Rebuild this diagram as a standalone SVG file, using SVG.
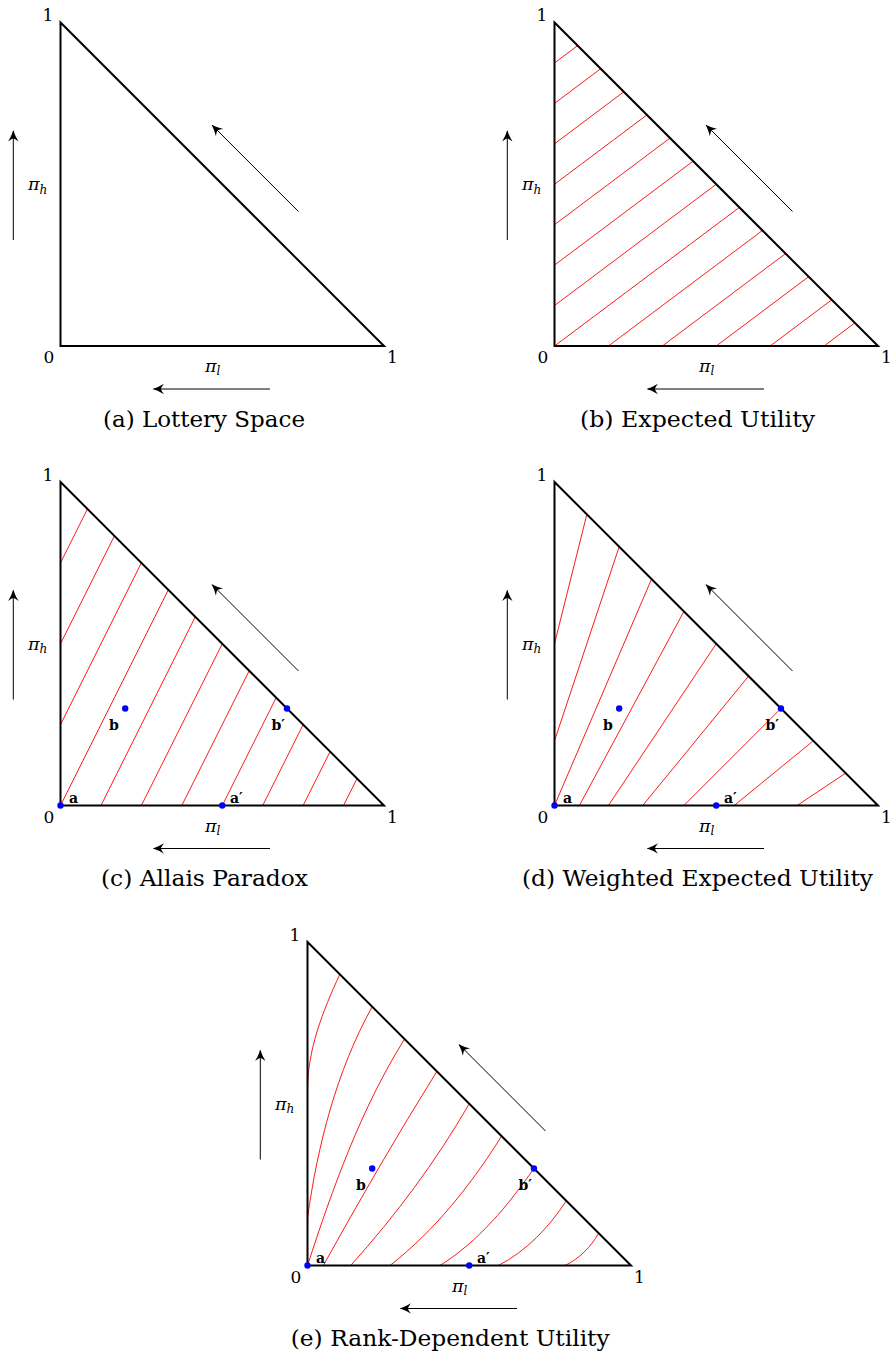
<svg xmlns="http://www.w3.org/2000/svg" width="891" height="1355" viewBox="0 0 891 1355">
<style>
text{font-family:'DejaVu Serif','Liberation Serif',serif;fill:#000}
.num{font-size:17px;text-anchor:middle}
.pi{font-size:17.5px;font-style:italic}
.sub{font-size:12px;font-style:italic}
.cap{font-size:23px}
.pt{font-size:14px;font-weight:bold}
.tri{fill:none;stroke:#000;stroke-width:2;stroke-linejoin:miter}
.red{fill:none;stroke:#ff0000;stroke-width:0.9}
.arr{fill:none;stroke:#000;stroke-width:1;marker-end:url(#ah)}
.dot{fill:#0000ff}
</style>
<defs>
<marker id="ah" viewBox="-12 -7 13 14" refX="0" refY="0" markerWidth="13" markerHeight="14" markerUnits="userSpaceOnUse" orient="auto">
<path d="M0.8,0 Q-5,-1.8 -10.5,-5.2 Q-7.5,-1.4 -7.5,0 Q-7.5,1.4 -10.5,5.2 Q-5,1.8 0.8,0 Z" fill="#000"/>
</marker>
</defs>

<!-- (a) Lottery Space -->
<g id="panel-a">
<polygon class="tri" points="60.5,22.5 60.5,346 384,346"/>
<g id="arrows-a">
<path class="arr" d="M13.3,240 L13.3,131"/>
<path class="arr" d="M298.5,211.5 L212.2,125.2"/>
<path class="arr" d="M270,389 L153.5,389"/>
</g>
<text class="num" x="48" y="21">1</text>
<text class="num" x="49" y="363">0</text>
<text class="num" x="392.5" y="363">1</text>
<text class="pi" x="28" y="190">π<tspan class="sub" dy="3.5">h</tspan></text>
<text class="pi" x="205" y="372">π<tspan class="sub" dy="3">l</tspan></text>
<text class="cap" x="103" y="427" textLength="202" lengthAdjust="spacingAndGlyphs">(a) Lottery Space</text>
</g>

<!-- (b) Expected Utility -->
<g id="panel-b">
<g id="lines-b" class="red">
<path d="M554.5,62.94 L577.61,45.61"/>
<path d="M554.5,103.38 L600.71,68.71"/>
<path d="M554.5,143.81 L623.82,91.82"/>
<path d="M554.5,184.25 L646.93,114.93"/>
<path d="M554.5,224.69 L670.04,138.04"/>
<path d="M554.5,265.13 L693.14,161.14"/>
<path d="M554.5,305.56 L716.25,184.25"/>
<path d="M554.5,346 L739.36,207.36"/>
<path d="M608.42,346 L762.46,230.46"/>
<path d="M662.33,346 L785.57,253.57"/>
<path d="M716.25,346 L808.68,276.68"/>
<path d="M770.17,346 L831.79,299.79"/>
<path d="M824.08,346 L854.89,322.89"/>
</g>
<polygon class="tri" points="554.5,22.5 554.5,346 878,346"/>
<g id="arrows-b">
<path class="arr" d="M507.3,240 L507.3,131"/>
<path class="arr" d="M792.5,211.5 L706.2,125.2"/>
<path class="arr" d="M764,389 L647.5,389"/>
</g>
<text class="num" x="542" y="21">1</text>
<text class="num" x="543" y="363">0</text>
<text class="num" x="886.5" y="363">1</text>
<text class="pi" x="522" y="190">π<tspan class="sub" dy="3.5">h</tspan></text>
<text class="pi" x="699" y="372">π<tspan class="sub" dy="3">l</tspan></text>
<text class="cap" x="580" y="427" textLength="235" lengthAdjust="spacingAndGlyphs">(b) Expected Utility</text>
</g>

<!-- (c) Allais Paradox -->
<g id="panel-c">
<g id="lines-c" class="red">
<path d="M60.5,562.88 L87.46,508.96"/>
<path d="M60.5,643.75 L114.42,535.92"/>
<path d="M60.5,724.63 L141.38,562.88"/>
<path d="M60.5,805.5 L168.33,589.83"/>
<path d="M100.94,805.5 L195.29,616.79"/>
<path d="M141.38,805.5 L222.25,643.75"/>
<path d="M181.81,805.5 L249.21,670.71"/>
<path d="M222.25,805.5 L276.17,697.67"/>
<path d="M262.69,805.5 L303.13,724.63"/>
<path d="M303.13,805.5 L330.08,751.58"/>
<path d="M343.56,805.5 L357.04,778.54"/>
</g>
<polygon class="tri" points="60.5,482 60.5,805.5 384,805.5"/>
<g id="arrows-c">
<path class="arr" d="M13.3,699.5 L13.3,590.5"/>
<path class="arr" d="M298.5,671 L212.2,584.7"/>
<path class="arr" d="M270,848.5 L153.5,848.5"/>
</g>
<g id="points-c">
<circle class="dot" cx="60.5" cy="805.5" r="3.2"/>
<circle class="dot" cx="222.25" cy="805.5" r="3.2"/>
<circle class="dot" cx="125.2" cy="708.45" r="3.2"/>
<circle class="dot" cx="286.95" cy="708.45" r="3.2"/>
<text class="pt" x="69" y="802.5">a</text>
<text class="pt" x="230" y="802.5">a′</text>
<text class="pt" x="109" y="730">b</text>
<text class="pt" x="271.5" y="730">b′</text>
</g>
<text class="num" x="48" y="480.5">1</text>
<text class="num" x="49" y="822.5">0</text>
<text class="num" x="392.5" y="822.5">1</text>
<text class="pi" x="28" y="649.5">π<tspan class="sub" dy="3.5">h</tspan></text>
<text class="pi" x="205" y="831.5">π<tspan class="sub" dy="3">l</tspan></text>
<text class="cap" x="101" y="886" textLength="207" lengthAdjust="spacingAndGlyphs">(c) Allais Paradox</text>
</g>

<!-- (d) Weighted Expected Utility -->
<g id="panel-d">
<g id="lines-d" class="red">
<path d="M554.5,643.75 L586.85,514.35"/>
<path d="M554.5,740.8 L619.2,546.7"/>
<path d="M554.5,805.5 L651.55,579.05"/>
<path d="M579.38,805.5 L683.9,611.4"/>
<path d="M608.42,805.5 L716.25,643.75"/>
<path d="M642.73,805.5 L748.6,676.1"/>
<path d="M683.9,805.5 L780.95,708.45"/>
<path d="M734.22,805.5 L813.3,740.8"/>
<path d="M797.13,805.5 L845.65,773.15"/>
</g>
<polygon class="tri" points="554.5,482 554.5,805.5 878,805.5"/>
<g id="arrows-d">
<path class="arr" d="M507.3,699.5 L507.3,590.5"/>
<path class="arr" d="M792.5,671 L706.2,584.7"/>
<path class="arr" d="M764,848.5 L647.5,848.5"/>
</g>
<g id="points-d">
<circle class="dot" cx="554.5" cy="805.5" r="3.2"/>
<circle class="dot" cx="716.25" cy="805.5" r="3.2"/>
<circle class="dot" cx="619.2" cy="708.45" r="3.2"/>
<circle class="dot" cx="780.95" cy="708.45" r="3.2"/>
<text class="pt" x="563" y="802.5">a</text>
<text class="pt" x="724" y="802.5">a′</text>
<text class="pt" x="603" y="730">b</text>
<text class="pt" x="765.5" y="730">b′</text>
</g>
<text class="num" x="542" y="480.5">1</text>
<text class="num" x="543" y="822.5">0</text>
<text class="num" x="886.5" y="822.5">1</text>
<text class="pi" x="522" y="649.5">π<tspan class="sub" dy="3.5">h</tspan></text>
<text class="pi" x="699" y="831.5">π<tspan class="sub" dy="3">l</tspan></text>
<text class="cap" x="522" y="886" textLength="351" lengthAdjust="spacingAndGlyphs">(d) Weighted Expected Utility</text>
</g>

<!-- (e) Rank-Dependent Utility -->
<g id="panel-e">
<g id="curves-e" class="red">
<path d="M307.5,1090 C307.5,1050.3 322.6,1011.2 339.85,974.35"/>
<path d="M307.5,1218 C317.7,1145 336.5,1071.2 372.2,1006.7"/>
<path d="M307.5,1265.5 C332.9,1187.4 361.05,1108.7 404.55,1039.05"/>
<path d="M323.3,1265.5 C359.7,1199.9 397.15,1135 436.9,1071.4"/>
<path d="M350.7,1265.5 C395.4,1215.9 435.85,1161.6 469.25,1103.75"/>
<path d="M390,1265.5 C434.9,1230.4 471.4,1184.4 501.6,1136.1"/>
<path d="M440,1265.5 C478.2,1241.65 508.15,1205.4 533.95,1168.45"/>
<path d="M498.3,1265.5 C526.2,1251.3 549.2,1227.1 566.3,1200.8"/>
<path d="M565,1265.5 C579,1258.9 591.15,1246.8 598.65,1233.2"/>
</g>
<polygon class="tri" points="307.5,942 307.5,1265.5 631,1265.5"/>
<g id="arrows-e">
<path class="arr" d="M260.3,1159.5 L260.3,1050.5"/>
<path class="arr" d="M545.5,1131 L459.2,1044.7"/>
<path class="arr" d="M517,1308.5 L400.5,1308.5"/>
</g>
<g id="points-e">
<circle class="dot" cx="307.5" cy="1265.5" r="3.2"/>
<circle class="dot" cx="469.25" cy="1265.5" r="3.2"/>
<circle class="dot" cx="372.2" cy="1168.45" r="3.2"/>
<circle class="dot" cx="533.95" cy="1168.45" r="3.2"/>
<text class="pt" x="316" y="1262.5">a</text>
<text class="pt" x="477" y="1262.5">a′</text>
<text class="pt" x="356" y="1190">b</text>
<text class="pt" x="518.5" y="1190">b′</text>
</g>
<text class="num" x="295" y="940.5">1</text>
<text class="num" x="296" y="1282.5">0</text>
<text class="num" x="639.5" y="1282.5">1</text>
<text class="pi" x="275" y="1109.5">π<tspan class="sub" dy="3.5">h</tspan></text>
<text class="pi" x="452" y="1291.5">π<tspan class="sub" dy="3">l</tspan></text>
<text class="cap" x="290.7" y="1346" textLength="319" lengthAdjust="spacingAndGlyphs">(e) Rank-Dependent Utility</text>
</g>
</svg>
